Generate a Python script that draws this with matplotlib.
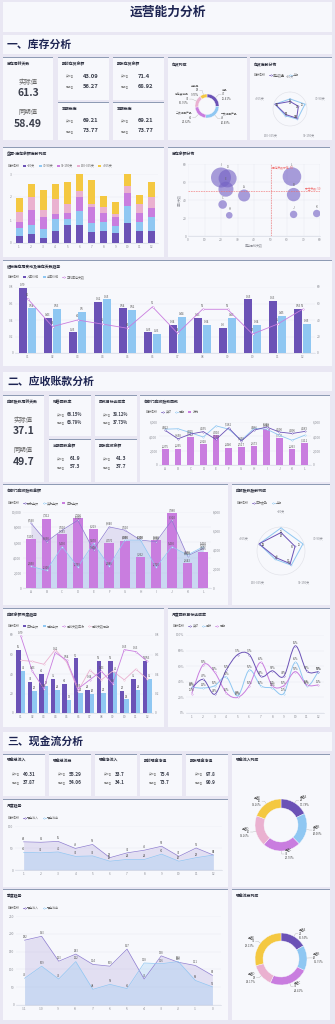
import numpy as np
import matplotlib
matplotlib.use("Agg")
import matplotlib.pyplot as plt
from matplotlib.patches import Rectangle, Patch, PathPatch
from matplotlib.lines import Line2D
from matplotlib.path import Path

plt.rcParams["font.family"] = ["Noto Sans CJK SC", "DejaVu Sans"]
plt.rcParams["axes.unicode_minus"] = False

# ---------------- data ----------------
months = [str(m) for m in range(1, 13)]
months2 = ["%02d" % m for m in range(1, 13)]
depts = list("ABCDEFGHIJKL")
quarters = [str(q) for q in range(-11, 1)]
age_bands = ["<30天", "30-90天", "90-150天", "150-365天", ">365天"]

# 一、库存分析
inv_turn_days = (61.3, 58.49)
inv_open = (43.09, 56.27)
inv_close = (71.4, 68.92)
inv_out = (69.21, 73.77)

stock_names = ["成品", "一次加工产品", "二次加工产品", "待包装成品", "半成品"]
stock_values = [47, 49, 40, 31, 18]

inv_age_now = [12, 14, 18, 11, 25]
inv_age_prev = [16, 25, 20, 13, 25]

age_lt30 = [0.30, 0.40, 0.21, 0.54, 0.78, 0.78, 0.48, 0.52, 0.45, 0.87, 0.52, 0.52]
age_30_90 = [0.37, 0.38, 0.39, 0.50, 0.26, 0.61, 0.37, 0.38, 0.27, 0.74, 0.41, 0.61]
age_90_150 = [0.26, 0.67, 0.55, 0.24, 0.27, 0.60, 0.72, 0.41, 0.43, 0.55, 0.38, 0.39]
age_150_365 = [0.41, 0.55, 0.30, 0.65, 0.38, 0.28, 0.13, 0.26, 0.13, 0.30, 0.39, 0.48]
age_gt365 = [0.60, 0.57, 0.86, 0.64, 0.95, 0.74, 1.03, 0.49, 0.51, 0.53, 0.39, 0.66]

bubble_names = ["I", "D", "E", "A", "C", "H", "L", "B", "J", "K"]
bubble_x = [20, 24, 23, 34, 21, 25, 63, 64, 64, 78]
bubble_y = [65, 64, 52, 45, 35, 23, 66, 46, 24, 25]
bubble_stock = [100, 90, 75, 60, 43, 33, 93, 67, 37, 37]

in_price = [0.79, 0.43, 0.25, 0.62, 0.54, 0.25, 0.34, 0.43, 0.3, 0.65, 0.63, 0.53]
out_price = [0.54, 0.53, 0.5, 0.65, 0.52, 0.23, 0.44, 0.34, 0.43, 0.34, 0.45, 0.35]
avg_days = [66, 32, 40, 35, 30, 56, 24, 53, 53, 23, 35, 53]

# 二、应收账款分析
ar_days = (37.1, 49.7)
ar_rate = ("66.15%", "63.79%")
ar_target = ("38.12%", "37.73%")
ar_collected = (61.9, 57.3)
ar_ending = (41.3, 37.7)

dept_wan = [2275, 2295, 3900, 2928, 4210, 2440, 2517, 2673, 5084, 3780, 2263, 3111]
dept_actual = [4822, 3650, 4325, 4655, 3560, 5181, 3350, 4866, 5300, 4600, 4396, 4683]
dept_prior = [5000, 5057, 4500, 3900, 5464, 5000, 3450, 5100, 5000, 4150, 3450, 4150]

dept_receivable = [5107, 7312, 5653, 7390, 6219, 4770, 4986, 3262, 5060, 7880, 2643, 3835]
dept_expected = [8560, 6090, 7610, 8910, 5000, 8040, 7610, 6300, 6090, 8910, 4220, 5220]
dept_received = [2850, 2308, 5430, 2759, 5870, 2886, 6300, 6300, 2720, 5430, 4350, 5430]

ar_age_now = [20, 16, 17, 9, 25]
ar_age_prev = [25, 25, 19, 11, 25]

ar_balance = [65, 32, 40, 35, 30, 56, 24, 53, 53, 23, 35, 53]
ar_balance_prior = [43, 23, 28, 24, 13, 21, 20, 21, 42, 14, 24, 35]
ar_turn = [0.79, 0.43, 0.25, 0.62, 0.54, 0.25, 0.34, 0.43, 0.3, 0.65, 0.63, 0.53]
ar_turn_prior = [0.54, 0.53, 0.5, 0.65, 0.52, 0.23, 0.44, 0.34, 0.43, 0.34, 0.45, 0.35]

hit_actual = [32, 43, 24, 55, 75, 75, 47, 54, 47, 86, 54, 53]
hit_target = [33, 32, 35, 46, 22, 55, 35, 32, 25, 65, 35, 53]
hit_prior = [25, 62, 52, 26, 20, 35, 65, 35, 35, 53, 36, 36]

# 三、现金流分析
cash_kpi_names = ["现金总流入", "现金总流出", "现金净流入", "期初现金净值", "期末现金净值"]
cash_kpi_actual = [40.31, 55.29, 33.7, 75.4, 97.8]
cash_kpi_prior = [37.87, 54.06, 34.1, 73.7, 90.9]

cash_in_m = [64, 63, 65, 49, 58, 28, 39, 45, 54, 31, 50, 34]
cash_out_m = [40, 39, 41, 31, 32, 20, 24, 24, 36, 20, 28, 34]
cash_in_q = [182, 193, 123, 143, 114, 109, 157, 73, 138, 120, 111, 83]
cash_out_q = [75, 109, 73, 122, 44, 58, 46, 118, 116, 122, 69, 51]

channels = ["渠道A", "渠道B", "渠道C", "渠道D", "渠道E"]
cash_in_share = [24, 27, 32, 26, 26]
cash_out_share = [21, 20, 31, 18, 37]

# ---------------- style ----------------
W, H = 335, 1024
BG = "#e9e7f3"
PANEL = "#f7f8fc"
EDGE = "#8e9bb4"
NAVY = "#1d2452"
TXT = "#2f3240"
DARK = "#3b3f4c"
GRAY = "#8a8c94"
PURPLE = "#6b52b6"
BLUE = "#8fc7f2"
MAGENTA = "#c97ddf"
PINK = "#eab1d0"
YELLOW = "#f4c841"
RED = "#f06a6a"
GRID = "#e4e6ee"
PIE_COLORS = [PURPLE, BLUE, MAGENTA, PINK, YELLOW]

fig = plt.figure(figsize=(W / 100, H / 100), dpi=100)
fig.patch.set_facecolor(BG)


def fy(y):
    return 1 - y / H


def px_rect(x, y, w, h):
    return [x / W, 1 - (y + h) / H, w / W, h / H]


def panel(x, y, w, h, title=None, bar=True):
    fig.add_artist(Rectangle((x / W, fy(y + h)), w / W, h / H, transform=fig.transFigure,
                             facecolor=PANEL, edgecolor="none", zorder=-2))
    if bar:
        fig.add_artist(Rectangle((x / W, fy(y + 1.2)), w / W, 1.2 / H, transform=fig.transFigure,
                                 facecolor=EDGE, edgecolor="none", zorder=-1))
    if title:
        fig.text((x + 4) / W, fy(y + 7), title, fontsize=2.8, weight="bold", color=TXT,
                 ha="left", va="center")


def section(y, text):
    panel(3, y, 329, 19, bar=False)
    fig.text(7 / W, fy(y + 9.5), text, fontsize=7.8, weight=900, color=NAVY,
             ha="left", va="center")


def big_kpi(x, y, w, h, title, vals):
    panel(x, y, w, h, title)
    cx = (x + w / 2) / W
    fig.text(cx, fy(y + 25), "实际值", fontsize=4.6, color="#666", ha="center", va="center")
    fig.text(cx, fy(y + 36.5), str(vals[0]), fontsize=7.5, weight="bold", color=DARK,
             ha="center", va="center")
    fig.text(cx, fy(y + 55), "同期值", fontsize=4.6, color="#666", ha="center", va="center")
    fig.text(cx, fy(y + 67), str(vals[1]), fontsize=7.5, weight="bold", color=DARK,
             ha="center", va="center")


def small_kpi(x, y, w, h, title, vals, ldx, vdx, dy1, dy2, vsize):
    panel(x, y, w, h, title)
    for lab, v, dy in [("实际值", vals[0], dy1), ("同期值", vals[1], dy2)]:
        fig.text((x + ldx) / W, fy(y + dy), lab, fontsize=1.9, color="#777", ha="left", va="center")
        fig.text((x + vdx) / W, fy(y + dy), str(v), fontsize=vsize, weight="bold", color=DARK,
                 ha="left", va="center")


def add_legend(x, y, items):
    fig.text(x / W, fy(y), "指标名称", fontsize=2.2, color="#666", ha="left", va="center")
    handles, labels = [], []
    for kind, color, label in items:
        if kind == "bar":
            handles.append(Patch(facecolor=color, edgecolor="none"))
        else:
            handles.append(Line2D([], [], color=color, lw=0.5, marker="o", ms=1.0,
                                  mfc="white", mew=0.3))
        labels.append(label)
    fig.legend(handles, labels, loc="center left", bbox_to_anchor=((x + 15) / W, fy(y)),
               ncol=len(items), frameon=False, fontsize=2.2, handlelength=1.0,
               handleheight=0.9, handletextpad=0.4, columnspacing=1.1, borderpad=0,
               borderaxespad=0, labelcolor="#666")


def style(ax, xgrid=False):
    ax.set_facecolor("none")
    for s in ["top", "right", "left"]:
        ax.spines[s].set_visible(False)
    ax.spines["bottom"].set_color("#cfd3de")
    ax.spines["bottom"].set_linewidth(0.4)
    ax.tick_params(labelsize=2.3, colors=GRAY, length=0, pad=1.2)
    ax.yaxis.grid(True, color=GRID, lw=0.3)
    if xgrid:
        ax.xaxis.grid(True, color=GRID, lw=0.3)
    ax.set_axisbelow(True)


def twin(ax):
    ax2 = ax.twinx()
    ax2.set_facecolor("none")
    for s in ["top", "right", "left", "bottom"]:
        ax2.spines[s].set_visible(False)
    ax2.tick_params(labelsize=2.3, colors=GRAY, length=0, pad=1.2)
    return ax2


def vlabels(ax, xs, ys, fmt, color="#555", dy=0.6, size=2.0, transform=None):
    for xv, yv in zip(xs, ys):
        kw = {} if transform is None else {"xycoords": transform}
        ax.annotate(fmt(yv), (xv, yv), xytext=(0, dy), textcoords="offset points",
                    ha="center", va="bottom", fontsize=size, color=color, **kw)


def comma(v):
    return f"{v:,}"


def gfmt(v):
    return f"{v:g}"


def donut(cx, cy, r, width, values, names, a=40, gap=3):
    ax = fig.add_axes(px_rect(cx - a, cy - a, 2 * a, 2 * a))
    wedges, _ = ax.pie(values, radius=r, colors=PIE_COLORS, startangle=90, counterclock=False,
                       wedgeprops=dict(width=width, edgecolor=PANEL, linewidth=0.3))
    ax.set_xlim(-a, a)
    ax.set_ylim(-a, a)
    ax.axis("off")
    total = sum(values)
    for wd, v, n in zip(wedges, values, names):
        ang = np.deg2rad((wd.theta1 + wd.theta2) / 2)
        c, s = np.cos(ang), np.sin(ang)
        sign = 1 if c >= 0 else -1
        x1, y1 = r * c, r * s
        x2, y2 = (r + gap) * c, (r + gap) * s
        x3 = x2 + sign * 2.5
        ax.plot([x1, x2, x3], [y1, y2, y2], color="#aaa", lw=0.25, clip_on=False)
        ax.text(x3 + sign * 0.8, y2, f"{n}\n{v}\n{v / total * 100:.2f}%",
                ha="left" if sign > 0 else "right", va="center", fontsize=2.0,
                color="#555", linespacing=1.1, clip_on=False)


def radar(cx, cy, r, now, prev, rmax):
    ax = fig.add_axes(px_rect(cx - r, cy - r, 2 * r, 2 * r), projection="polar")
    ax.set_facecolor("none")
    ax.set_theta_offset(np.pi / 2)
    ax.set_theta_direction(-1)
    theta = np.arange(len(age_bands)) * 2 * np.pi / len(age_bands)
    ax.set_ylim(0, rmax)
    ax.set_xticks(theta)
    ax.set_xticklabels(age_bands, fontsize=2.2, color=GRAY)
    ax.tick_params(axis="x", pad=0.5)
    ax.set_yticks([])
    ax.grid(False)
    ax.spines["polar"].set_color("#dedfe6")
    ax.spines["polar"].set_linewidth(0.4)
    tt = np.append(theta, theta[0])
    for vals, color in [(prev, BLUE), (now, PURPLE)]:
        ax.plot(tt, list(vals) + [vals[0]], color=color, lw=0.7, marker="o", ms=0.8,
                mfc="white", mew=0.3)
        for t, v in zip(theta, vals):
            ax.text(t, v * 0.82, str(v), fontsize=2.0, color="#555", ha="center", va="center")
    return ax


def smooth(ax, xs, ys, color):
    pts = np.column_stack([xs, ys]).astype(float)
    verts, codes = [pts[0]], [Path.MOVETO]
    for i in range(len(pts) - 1):
        p0 = pts[i - 1] if i > 0 else pts[i]
        p1, p2 = pts[i], pts[i + 1]
        p3 = pts[i + 2] if i + 2 < len(pts) else pts[i + 1]
        verts += [p1 + (p2 - p0) / 6, p2 - (p3 - p1) / 6, p2]
        codes += [Path.CURVE4] * 3
    ax.add_patch(PathPatch(Path(verts, codes), facecolor="none", edgecolor=color, lw=0.7))
    ax.plot(xs, ys, ls="none", marker="o", ms=1.0, color=color, mfc="white", mew=0.3)


# ---------------- page title ----------------
panel(3, 2, 329, 30, bar=False)
fig.text(0.5, fy(12), "运营能力分析", fontsize=9.2, weight=900, color=NAVY,
         ha="center", va="center")

# ================= 一、库存分析 =================
section(35, "一、库存分析")
big_kpi(3, 57, 50, 83, "库存周转天数", inv_turn_days)
small_kpi(58, 57, 51, 43, "期初存货余额", inv_open, 8, 25, 19, 29, 4.2)
small_kpi(58, 102, 51, 38, "本期出库", inv_out, 8, 25, 19, 29, 4.2)
small_kpi(113, 57, 51, 43, "期末存货余额", inv_close, 8, 25, 19, 29, 4.2)
small_kpi(113, 102, 51, 38, "本期出库", inv_out, 8, 25, 19, 29, 4.2)

panel(168, 57, 79, 83, "存货构成")
donut(207, 106, 12, 3.5, stock_values, stock_names, a=38, gap=4.5)

panel(250, 57, 82, 83, "存货库龄分布")
add_legend(254, 75, [("line", PURPLE, "库存数量"), ("line", BLUE, "上期")])
radar(290, 109, 17, inv_age_now, inv_age_prev, 27)

# stacked bars
panel(3, 147, 161, 110, "盘面-库存余额库龄构成")
add_legend(8, 166, [("bar", c, n) for c, n in zip(PIE_COLORS, age_bands)])
ax = fig.add_axes(px_rect(13, 174, 145, 69))
style(ax)
x = np.arange(12)
bottom = np.zeros(12)
for vals, c in zip([age_lt30, age_30_90, age_90_150, age_150_365, age_gt365], PIE_COLORS):
    ax.bar(x, vals, 0.58, bottom=bottom, color=c)
    bottom += np.array(vals)
ax.set_xlim(-0.5, 11.5)
ax.set_ylim(0, 3)
ax.set_yticks([0, 1, 2, 3])
ax.set_xticks(x, months)

# bubbles
panel(168, 147, 162, 110, "库存余额分布")
ax = fig.add_axes(px_rect(188, 164, 132, 72))
style(ax, xgrid=True)
rad_pt = [v / 10 * 0.72 for v in bubble_stock]
ax.scatter(bubble_x, bubble_y, s=[(2 * r) ** 2 for r in rad_pt], color="#7462c4",
           alpha=0.62, edgecolors="none", zorder=3)
for n, bx, by, r in zip(bubble_names, bubble_x, bubble_y, rad_pt):
    ax.annotate(n, (bx, by), xytext=(0, r + 0.4), textcoords="offset points",
                ha="center", va="bottom", fontsize=2.1, color="#666")
ax.axvline(50, color=RED, lw=0.4, ls=(0, (3, 1.5)), zorder=4)
ax.axhline(50, color=RED, lw=0.4, ls=(0, (3, 1.5)), zorder=4)
ax.text(50.8, 79, "库存天数标准: 50", color=RED, fontsize=2.0, ha="left", va="top")
ax.text(80, 51, "安全天数: 50", color=RED, fontsize=2.0, ha="right", va="bottom")
ax.set_xlim(0, 80)
ax.set_ylim(0, 80)
ax.set_xticks(range(0, 81, 10))
ax.set_yticks(range(0, 81, 20))
ax.set_xlabel("库存周转天数", fontsize=2.2, color=GRAY, labelpad=1)
ax.set_ylabel("库龄天数", fontsize=2.2, color=GRAY, labelpad=1)

# in/out price
panel(3, 260, 329, 106, "进出库存周变动及库存天数趋势")
add_legend(8, 277, [("bar", PURPLE, "入库价格"), ("bar", BLUE, "出库价格"),
                    ("line", MAGENTA, "平均库存天数")])
ax = fig.add_axes(px_rect(15, 287, 300, 66))
style(ax)
bw = 0.32
ax.bar(x - bw / 2 - 0.02, in_price, bw, color=PURPLE)
ax.bar(x + bw / 2 + 0.02, out_price, bw, color=BLUE)
vlabels(ax, x - bw / 2 - 0.02, in_price, gfmt)
vlabels(ax, x + bw / 2 + 0.02, out_price, gfmt)
ax.set_xlim(-0.5, 11.5)
ax.set_ylim(0, 0.8)
ax.set_yticks([0, 0.2, 0.4, 0.6, 0.8], ["0", "0.2", "0.4", "0.6", "0.8"])
ax.set_xticks(x, months2)
ax2 = twin(ax)
ax2.plot(x, avg_days, color=MAGENTA, lw=0.6, marker="o", ms=1.1, mfc="white", mew=0.3)
vlabels(ax2, x, avg_days, str, dy=1.2)
ax2.set_ylim(0, 80)
ax2.set_yticks(range(0, 81, 20))

# ================= 二、应收账款分析 =================
section(372, "二、应收账款分析")
big_kpi(3, 395, 41, 87, "应收账款周转天数", ar_days)
small_kpi(49, 395, 42, 41, "销售回款率", ar_rate, 8, 18, 20, 27.5, 3.0)
small_kpi(49, 439, 42, 43, "当期回款金额", ar_collected, 8, 21, 20, 28, 3.6)
small_kpi(95, 395, 42, 41, "回款目标达成率", ar_target, 8, 18, 20, 27.5, 3.0)
small_kpi(95, 439, 42, 43, "期末应收余额", ar_ending, 8, 21, 20, 28, 3.6)

panel(140, 395, 190, 87, "各部门应收账款回款")
add_legend(146, 412, [("line", PURPLE, "实际"), ("line", BLUE, "同期"), ("bar", MAGENTA, "万元")])
ax = fig.add_axes(px_rect(159, 422, 152, 43))
style(ax)
ax.bar(x, dept_wan, 0.55, color=MAGENTA)
vlabels(ax, x, dept_wan, comma)
ax.set_xlim(-0.5, 11.5)
ax.set_ylim(0, 6000)
ax.set_yticks(range(0, 6001, 2000), [comma(t) for t in range(0, 6001, 2000)])
ax.set_xticks(x, depts)
ax2 = twin(ax)
ax2.plot(x, dept_prior, color=BLUE, lw=0.6, marker="o", ms=1.0, mfc="white", mew=0.3)
ax2.plot(x, dept_actual, color=PURPLE, lw=0.6, marker="o", ms=1.0, mfc="white", mew=0.3)
vlabels(ax2, x, dept_actual, comma, dy=0.8)
ax2.set_ylim(0, 6000)
ax2.set_yticks(range(0, 6001, 2000), [comma(t) for t in range(0, 6001, 2000)])

# receivables by department: areas on the left scale, bars on the right scale
panel(3, 484, 225, 121, "各部门应收账款金额")
add_legend(8, 503, [("line", PURPLE, "预收金额"), ("line", BLUE, "实收金额"),
                    ("bar", MAGENTA, "应收金额")])
ax = fig.add_axes(px_rect(23, 512, 188, 76))
style(ax)
ax.fill_between(x, dept_expected, color="#7a62c2", alpha=0.16, lw=0)
ax.fill_between(x, dept_received, color=BLUE, alpha=0.28, lw=0)
ax.set_xlim(-0.5, 11.5)
ax.set_ylim(0, 10000)
ax.set_yticks(range(0, 10001, 2000), [comma(t) for t in range(0, 10001, 2000)])
ax.set_xticks(x, depts)
ax2 = twin(ax)
ax2.bar(x, dept_receivable, 0.62, color=MAGENTA)
vlabels(ax2, x, dept_receivable, comma)
ax2.set_ylim(0, 8000)
ax2.set_yticks(range(0, 8001, 2000), [comma(t) for t in range(0, 8001, 2000)])
ax2.plot(x, dept_expected, color="#8d7ccf", lw=0.5, marker="o", ms=0.9, mfc="white",
         mew=0.3, transform=ax.transData)
ax2.plot(x, dept_received, color=BLUE, lw=0.5, marker="o", ms=0.9, mfc="white",
         mew=0.3, transform=ax.transData)
vlabels(ax2, x, dept_expected, comma, dy=0.8, transform=ax.transData)
vlabels(ax2, x, dept_received, comma, dy=0.8, transform=ax.transData)

panel(232, 484, 98, 121, "应收账款账龄构成")
add_legend(237, 503, [("line", PURPLE, "应收账款"), ("line", BLUE, "上期")])
radar(281, 551, 24, ar_age_now, ar_age_prev, 26)

# receivable balance trend
panel(3, 608, 161, 119, "应收余额月度趋势")
add_legend(8, 626, [("bar", PURPLE, "应收余额"), ("bar", BLUE, "同期余额"),
                    ("line", MAGENTA, "周转天数应收"), ("line", PINK, "周转天数同期")])
ax = fig.add_axes(px_rect(15, 635, 138, 78))
style(ax)
ax.bar(x - 0.2, ar_balance, 0.4, color=PURPLE)
ax.bar(x + 0.2, ar_balance_prior, 0.4, color=BLUE)
vlabels(ax, x - 0.2, ar_balance, str)
vlabels(ax, x + 0.2, ar_balance_prior, str)
ax.set_xlim(-0.5, 11.5)
ax.set_ylim(0, 80)
ax.set_yticks(range(0, 81, 20))
ax.set_xticks(x, months2)
ax2 = twin(ax)
ax2.plot(x, ar_turn_prior, color=PINK, lw=0.6, marker="o", ms=1.0, mfc="white", mew=0.3)
ax2.plot(x, ar_turn, color=MAGENTA, lw=0.6, marker="o", ms=1.0, mfc="white", mew=0.3)
vlabels(ax2, x, ar_turn, gfmt, dy=0.8)
ax2.set_ylim(0, 0.8)
ax2.set_yticks([0, 0.2, 0.4, 0.6, 0.8], ["0", "0.2", "0.4", "0.6", "0.8"])

# collection target
panel(168, 608, 162, 119, "月度回款目标达成率")
add_legend(173, 626, [("line", PURPLE, "实际"), ("line", BLUE, "目标"), ("line", MAGENTA, "同期")])
ax = fig.add_axes(px_rect(186, 635, 138, 78))
style(ax)
xm = np.arange(1, 13)
smooth(ax, xm, hit_target, BLUE)
smooth(ax, xm, hit_prior, MAGENTA)
smooth(ax, xm, hit_actual, PURPLE)
for series in [hit_actual, hit_target, hit_prior]:
    vlabels(ax, xm, series, lambda v: f"{v}%", dy=0.8, size=1.9)
ax.set_xlim(0.5, 12.5)
ax.set_ylim(0, 100)
ax.set_yticks(range(0, 101, 20), [f"{t}%" for t in range(0, 101, 20)])
ax.set_xticks(xm, months)

# ================= 三、现金流分析 =================
section(732, "三、现金流分析")
for i, (n, a, p) in enumerate(zip(cash_kpi_names, cash_kpi_actual, cash_kpi_prior)):
    small_kpi([3, 49, 95, 140, 186][i], 754, 42, 42, n, (a, p), 9, 20, 20, 28, 3.4)

panel(232, 754, 98, 133, "现金流入构成")
donut(281, 825, 26, 9, cash_in_share, channels, a=48)

panel(3, 799, 225, 88, "月度趋势")
add_legend(8, 818, [("line", PURPLE, "现金流入"), ("line", BLUE, "现金流出")])
ax = fig.add_axes(px_rect(15, 826, 207, 44))
style(ax)
ax.fill_between(xm, cash_in_m, color="#7a62c2", alpha=0.16, lw=0)
ax.fill_between(xm, cash_out_m, color=BLUE, alpha=0.28, lw=0)
ax.plot(xm, cash_in_m, color="#8d7ccf", lw=0.5)
ax.plot(xm, cash_out_m, color=BLUE, lw=0.5)
vlabels(ax, xm, cash_in_m, str, dy=0.8)
vlabels(ax, xm, cash_out_m, str, dy=0.8)
ax.set_xlim(0.5, 12.5)
ax.set_ylim(0, 100)
ax.set_yticks([0, 50, 100])
ax.set_xticks(xm, months)

panel(3, 889, 225, 131, "季度趋势")
add_legend(8, 908, [("line", PURPLE, "现金流入"), ("line", BLUE, "现金流出")])
ax = fig.add_axes(px_rect(16, 916, 205, 89))
style(ax)
xq = np.arange(-11, 1)
ax.fill_between(xq, cash_in_q, color="#7a62c2", alpha=0.16, lw=0)
ax.fill_between(xq, cash_out_q, color=BLUE, alpha=0.28, lw=0)
ax.plot(xq, cash_in_q, color="#8d7ccf", lw=0.5)
ax.plot(xq, cash_out_q, color=BLUE, lw=0.5)
vlabels(ax, xq, cash_in_q, str, dy=0.8)
vlabels(ax, xq, cash_out_q, str, dy=0.8)
ax.set_xlim(-11.5, 0.5)
ax.set_ylim(0, 250)
ax.set_yticks(range(0, 251, 50))
ax.set_xticks(xq, quarters)

panel(232, 889, 98, 131, "现金流出构成")
donut(281, 959, 26, 8, cash_out_share, channels, a=48)

fig.savefig("out.png", dpi=100, facecolor=BG)
